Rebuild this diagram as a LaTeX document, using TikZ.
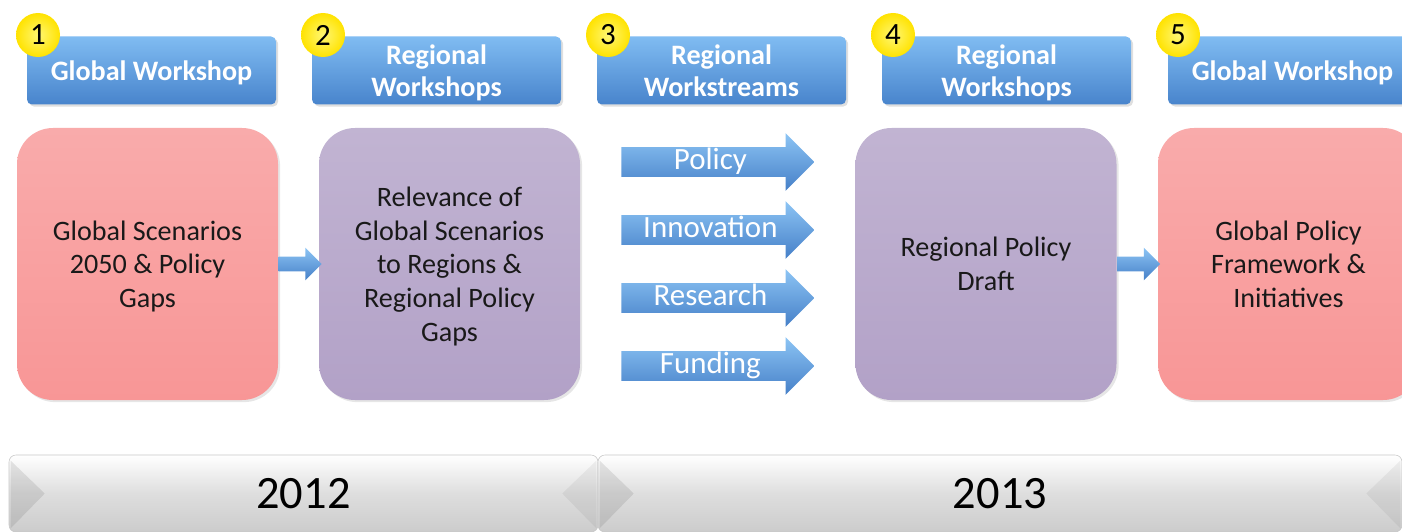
\documentclass[tikz,border=0pt]{standalone}
\usepackage{fontspec}
\setmainfont{Carlito}
\usepackage{tikz}
\usetikzlibrary{shapes.arrows}
\usetikzlibrary{shadows}
\usetikzlibrary{positioning}

\definecolor{hdrtop}{RGB}{128,188,242}
\definecolor{hdrbot}{RGB}{72,132,204}
\definecolor{arrtop}{RGB}{140,196,244}
\definecolor{arrbot}{RGB}{70,128,200}
\definecolor{pinkbox}{RGB}{248,150,150}
\definecolor{lilacbox}{RGB}{178,161,199}
\definecolor{numfill}{RGB}{255,240,0}

% one pixel of the drawing
\newcommand{\unitpx}{0.025cm}

\begin{document}
\begin{tikzpicture}[
    x=0.025cm, y=-0.025cm,
    header/.style={rectangle, rounded corners=5*\unitpx, top color=hdrtop, bottom color=hdrbot,
      text=white, font=\fontsize{20}{23}\selectfont\bfseries, align=center, text depth=0pt,
      minimum width=249*\unitpx, minimum height=68*\unitpx, inner sep=0pt,
      drop shadow={opacity=0.25, shadow xshift=1.5pt, shadow yshift=-1.5pt}},
    stepnum/.style={circle, minimum size=44*\unitpx, inner sep=0pt,
      shading=radial, inner color=numfill!55!white, outer color=numfill!88!orange,
      font=\fontsize{22}{24}\selectfont},
    phase/.style={rectangle, rounded corners=36*\unitpx, minimum width=261*\unitpx,
      minimum height=272*\unitpx, align=center, text depth=0pt, text=black!90,
      font=\fontsize{20}{24}\selectfont,
      drop shadow={opacity=0.2, shadow xshift=1.5pt, shadow yshift=-1.5pt}},
    global/.style={phase, top color=pinkbox!80!white, bottom color=pinkbox},
    regional/.style={phase, top color=lilacbox!80!white, bottom color=lilacbox},
    link/.style={single arrow, single arrow head extend=9*\unitpx, inner xsep=0pt,
      inner ysep=7*\unitpx, text height=0pt, text depth=0pt, minimum height=43*\unitpx,
      top color=arrtop, bottom color=arrbot},
    stream/.style={single arrow, single arrow head extend=14*\unitpx, inner xsep=2pt,
      inner ysep=2*\unitpx, text height=20*\unitpx, text depth=5*\unitpx,
      minimum height=193*\unitpx, top color=arrtop, bottom color=arrbot, text=white,
      font=\fontsize{22}{24}\selectfont},
    yearbar/.style={rectangle, rounded corners=7*\unitpx, minimum height=77*\unitpx,
      top color=white, bottom color=black!20, middle color=black!13, draw=black!22,
      font=\fontsize{33}{40}\selectfont},
    bevel/.style={fill=black, opacity=0.09},
  ]

  \useasboundingbox (0,0) rectangle (1402,532);
  \clip (0,0) rectangle (1402,532);

  % stage headers
  \node[header] (h1) at (151.5,70.5)  {Global Workshop};
  \node[header] (h2) at (436.5,70.5)  {Regional\\Workshops};
  \node[header] (h3) at (721.5,70.5)  {Regional\\Workstreams};
  \node[header] (h4) at (1006.5,70.5) {Regional\\Workshops};
  \node[header] (h5) at (1292.5,70.5) {Global Workshop};

  \node[stepnum] (n1) at (38,35)   {1};
  \node[stepnum] (n2) at (323,35)  {2};
  \node[stepnum] (n3) at (608,35)  {3};
  \node[stepnum] (n4) at (893,35)  {4};
  \node[stepnum] (n5) at (1178,35) {5};

  % stage contents
  \node[global]   (g1) at (147.5,264)  {Global Scenarios\\2050 \& Policy\\Gaps};
  \node[regional] (r2) at (449.5,264)  {Relevance of\\Global Scenarios\\to Regions \&\\Regional Policy\\Gaps};
  \node[regional] (r4) at (986,264)    {Regional Policy\\Draft};
  \node[global]   (g5) at (1288.5,264) {Global Policy\\Framework \&\\Initiatives};

  \node[link, anchor=tail] (a12) at (g1.east) {};
  \node[link, anchor=tail] (a45) at (r4.east) {};

  % workstreams
  \node[stream, anchor=tail] (policy)     at (621,162) {Policy};
  \node[stream, anchor=tail] (innovation) at (621,230) {Innovation};
  \node[stream, anchor=tail] (research)   at (621,298) {Research};
  \node[stream, anchor=tail] (funding)    at (621,366) {Funding};

  % timeline
  \node[yearbar, minimum width=589*\unitpx] (y12) at (303.5,493.5) {};
  \node[yearbar, minimum width=804*\unitpx] (y13) at (1000,493.5)  {};

  % bevelled ends of the bars
  \fill[bevel] ([xshift=2*\unitpx, yshift=-6*\unitpx]y12.north west) -- ([xshift=36*\unitpx]y12.west)
    -- ([xshift=2*\unitpx, yshift=4*\unitpx]y12.south west) -- cycle;
  \fill[bevel, opacity=0.05] ([xshift=-2*\unitpx, yshift=-6*\unitpx]y12.north east) -- ([xshift=-36*\unitpx]y12.east)
    -- ([xshift=-2*\unitpx, yshift=4*\unitpx]y12.south east) -- cycle;
  \fill[bevel] ([xshift=2*\unitpx, yshift=-6*\unitpx]y13.north west) -- ([xshift=36*\unitpx]y13.west)
    -- ([xshift=2*\unitpx, yshift=4*\unitpx]y13.south west) -- cycle;
  \fill[bevel, opacity=0.05] ([xshift=-2*\unitpx, yshift=-6*\unitpx]y13.north east) -- ([xshift=-36*\unitpx]y13.east)
    -- ([xshift=-2*\unitpx, yshift=4*\unitpx]y13.south east) -- cycle;

  \node[font=\fontsize{33}{40}\selectfont] (t12) at (y12.center) {2012};
  \node[font=\fontsize{33}{40}\selectfont] (t13) at (y13.center) {2013};

\end{tikzpicture}
\end{document}
